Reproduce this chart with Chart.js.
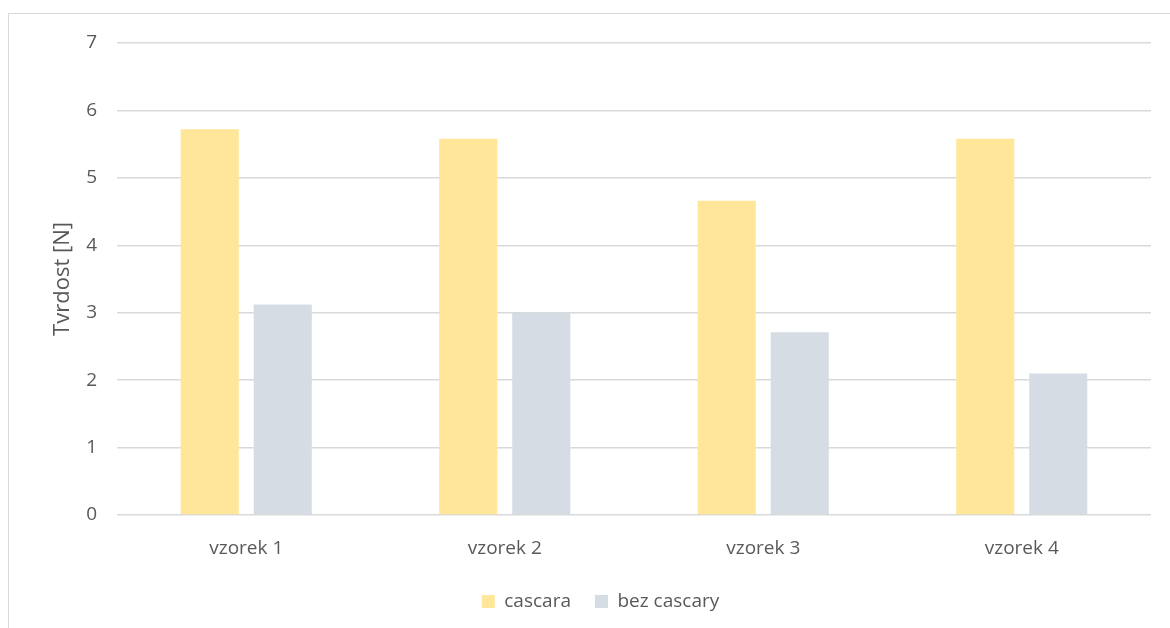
<!DOCTYPE html>
<html><head><meta charset="utf-8">
<script src="https://cdn.jsdelivr.net/npm/chart.js@4"></script>
<style>
html,body{margin:0;padding:0;background:#fff;}
#wrap{position:relative;width:1170px;height:628px;overflow:hidden;}
#frame{position:absolute;left:8px;top:13px;width:1200px;height:700px;border:1px solid #D9D9D9;box-sizing:border-box;}
canvas{position:absolute;left:0;top:0;}
</style></head>
<body><div id="wrap"><div id="frame"></div><canvas id="c" width="1170" height="628"></canvas></div>
<script>
const categories = ["vzorek 1","vzorek 2","vzorek 3","vzorek 4"];
const cascara = [5.72, 5.58, 4.66, 5.58];
const bezCascary = [3.12, 3.00, 2.71, 2.10];
const seriesNames = ["cascara","bez cascary"];
const yTitle = "Tvrdost [N]";

const FONT = "'Open Sans', sans-serif";
const TXT = "#595959";
new Chart(document.getElementById('c'), {
  type: 'bar',
  data: {
    labels: categories,
    datasets: [
      {label: seriesNames[0], data: cascara, backgroundColor: '#FFE699', categoryPercentage: 0.565, barPercentage: 0.795},
      {label: seriesNames[1], data: bezCascary, backgroundColor: '#D6DCE4', categoryPercentage: 0.565, barPercentage: 0.795}
    ]
  },
  options: {
    responsive: false,
    animation: false,
    devicePixelRatio: 1,
    layout: {padding: {left: 50, right: 19, top: 43, bottom: 7}},
    plugins: {
      tooltip: {enabled: false},
      legend: {
        position: 'bottom',
        labels: {boxWidth: 13, boxHeight: 13, color: TXT, font: {family: FONT, size: 19}, padding: 24}
      }
    },
    scales: {
      x: {
        grid: {display: false, drawTicks: false},
        border: {display: false},
        ticks: {color: TXT, font: {family: FONT, size: 19}, padding: 22, maxRotation: 0},
        afterFit: s => { s.height = 53; }
      },
      y: {
        min: 0, max: 7,
        ticks: {stepSize: 1, color: TXT, font: {family: FONT, size: 19}, padding: 20},
        grid: {color: '#D9D9D9', lineWidth: 1.5, drawTicks: false},
        border: {display: false},
        title: {display: true, text: yTitle, color: TXT, font: {family: FONT, size: 22}, padding: 0},
        afterFit: s => { s.width = 67; }
      }
    }
  }
});
</script></body></html>
